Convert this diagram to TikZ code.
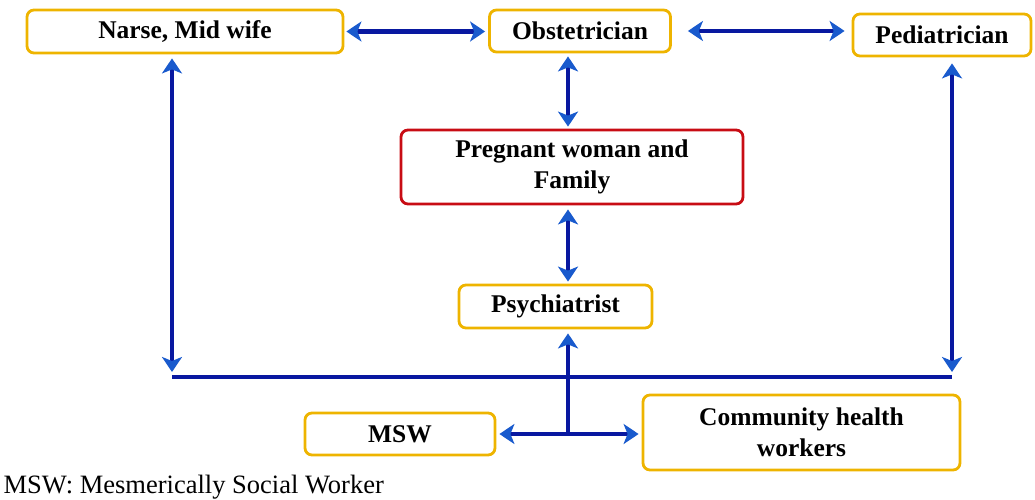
\documentclass[tikz,border=0pt]{standalone}
\usepackage{fontspec}
\setmainfont{Liberation Serif}
\usetikzlibrary{arrows.meta}
\definecolor{boxgold}{RGB}{238,180,0}
\definecolor{boxred}{RGB}{200,12,20}
\definecolor{linkblue}{RGB}{8,24,160}
\definecolor{tipblue}{RGB}{25,90,205}
\begin{document}
\begin{tikzpicture}[x=1pt,y=-1pt,
  font=\fontsize{26.5}{31}\selectfont,
  box/.style={draw=boxgold,line width=2.8pt,rounded corners=7pt,inner sep=0pt,align=center,font=\fontsize{25.5}{31}\selectfont\bfseries},
  redbox/.style={box,draw=boxred},
  tip/.tip={Stealth[length=15pt,width=20pt,inset=4pt,color=tipblue]},
  link/.style={draw=linkblue,line width=4.2pt,tip-tip},
  uplink/.style={draw=linkblue,line width=4.2pt,tip-},
  bar/.style={draw=linkblue,line width=4.2pt}]
\useasboundingbox (0,0) rectangle (1035,500);
% boxes
\node[box,minimum width=316pt,minimum height=43pt] (nurse) at (185,31.5) {Narse, Mid wife};
\node[box,minimum width=181pt,minimum height=42pt] (obst) at (580,31) {Obstetrician};
\node[box,minimum width=178pt,minimum height=42pt] (ped) at (942,35) {Pediatrician};
\node[redbox,minimum width=342pt,minimum height=74pt] (preg) at (572,167) {Pregnant woman and\\Family};
\node[box,minimum width=193pt,minimum height=43pt] (psych) at (555.5,306.5) {Psychiatrist};
\node[box,minimum width=190pt,minimum height=42pt] (msw) at (400,434) {MSW};
\node[box,minimum width=317pt,minimum height=75pt] (chw) at (801.5,432.5) {Community health\\workers};
\node[anchor=base west] (note) at (0,493) {MSW: Mesmerically Social Worker};
% helper points
\coordinate (mid) at (568,0);
\coordinate (join) at (568,434);
\coordinate (lc) at (172,377);
\coordinate (rc) at (952,377);
% top row
\draw[link] ([xshift=2pt]nurse.east) -- ([xshift=-3pt]nurse.east -| obst.west);
\draw[link] ([xshift=16pt]obst.east) -- ([xshift=-7pt]obst.east -| ped.west);
% centre column
\draw[link] ([yshift=-3pt]obst.south -| mid) -- ([yshift=2pt]preg.north -| mid);
\draw[link] ([yshift=-4pt]preg.south -| mid) -- ([yshift=2pt]psych.north -| mid);
\draw[uplink] ([yshift=-4pt]psych.south -| mid) -- (join);
% bottom row
\draw[link] ([xshift=3pt]msw.east) -- ([xshift=-3pt]msw.east -| chw.west);
% outer loop
\draw[link] ([yshift=-4pt]nurse.south -| lc) -- ([yshift=5pt]lc);
\draw[link] ([yshift=-6pt]ped.south -| rc) -- ([yshift=5pt]rc);
\draw[bar] (lc) -- (rc);
\end{tikzpicture}
\end{document}
